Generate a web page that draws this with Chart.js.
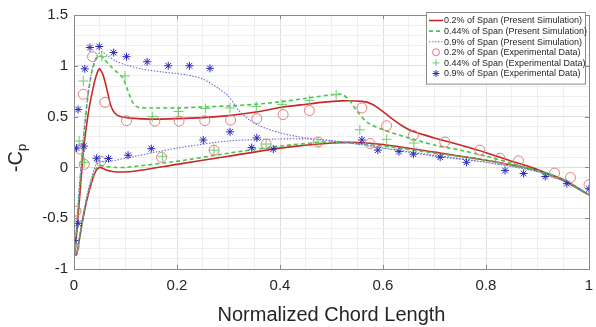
<!DOCTYPE html>
<html>
<head>
<meta charset="utf-8">
<script src="https://cdn.jsdelivr.net/npm/chart.js@4"></script>
<style>
  html, body { margin: 0; padding: 0; background: #fff; overflow: hidden; }
  #wrap { width: 596px; height: 327px; position: relative; }
</style>
</head>
<body>
<div id="wrap"><canvas id="cpChart"></canvas></div>
<script>
// simulation curves: trailing edge -> upper surface -> leading edge -> lower surface -> trailing edge
var sim02X = [1.0, 0.95, 0.9, 0.85, 0.8, 0.75, 0.7, 0.66, 0.64, 0.62, 0.6, 0.58, 0.56, 0.52, 0.48, 0.44, 0.4, 0.36, 0.3, 0.25, 0.2, 0.15, 0.11, 0.09, 0.08, 0.072, 0.066, 0.06, 0.054, 0.049, 0.043, 0.037, 0.03, 0.024, 0.018, 0.014, 0.01, 0.006, 0.002,
  0.005, 0.01, 0.018, 0.026, 0.034, 0.042, 0.05, 0.06, 0.075, 0.095, 0.12, 0.2, 0.3, 0.4, 0.5, 0.55, 0.6, 0.7, 0.8, 0.9, 0.95, 1.0];
var sim02Y = [-0.27, -0.13, -0.02, 0.06, 0.145, 0.22, 0.29, 0.35, 0.4, 0.47, 0.55, 0.62, 0.65, 0.655, 0.64, 0.615, 0.59, 0.55, 0.51, 0.49, 0.48, 0.475, 0.485, 0.5, 0.53, 0.6, 0.72, 0.85, 0.94, 0.97, 0.9, 0.78, 0.6, 0.4, 0.15, -0.1, -0.35, -0.6, -0.86,
  -0.86, -0.72, -0.49, -0.3, -0.15, -0.04, 0.0, -0.02, -0.04, -0.045, -0.035, 0.03, 0.11, 0.19, 0.24, 0.245, 0.225, 0.15, 0.07, -0.03, -0.12, -0.27];

var sim044X = [1.0, 0.95, 0.9, 0.85, 0.8, 0.75, 0.7, 0.65, 0.6, 0.57, 0.55, 0.535, 0.52, 0.5, 0.45, 0.4, 0.35, 0.3, 0.25, 0.2, 0.15, 0.125, 0.115, 0.105, 0.095, 0.085, 0.07, 0.058, 0.05, 0.043, 0.035, 0.027, 0.02, 0.014, 0.008, 0.002,
  0.005, 0.01, 0.018, 0.026, 0.034, 0.042, 0.05, 0.06, 0.08, 0.1, 0.2, 0.3, 0.4, 0.5, 0.6, 0.7, 0.8, 0.9, 0.95, 1.0];
var sim044Y = [-0.27, -0.13, -0.04, 0.04, 0.11, 0.17, 0.22, 0.29, 0.37, 0.44, 0.55, 0.66, 0.72, 0.715, 0.68, 0.645, 0.62, 0.605, 0.595, 0.585, 0.585, 0.59, 0.63, 0.75, 0.88, 0.93, 1.0, 1.07, 1.1, 1.07, 0.95, 0.7, 0.35, 0.0, -0.4, -0.85,
  -0.86, -0.72, -0.48, -0.28, -0.13, -0.02, 0.02, 0.01, 0.0, 0.0, 0.06, 0.14, 0.21, 0.25, 0.21, 0.14, 0.07, -0.03, -0.12, -0.27];

var sim09X = [1.0, 0.95, 0.9, 0.8, 0.7, 0.6, 0.55, 0.5, 0.45, 0.4, 0.36, 0.34, 0.32, 0.3, 0.28, 0.25, 0.22, 0.17, 0.13, 0.1, 0.08, 0.065, 0.053, 0.045, 0.036, 0.028, 0.02, 0.014, 0.008, 0.002,
  0.005, 0.01, 0.018, 0.026, 0.034, 0.042, 0.05, 0.07, 0.1, 0.2, 0.3, 0.4, 0.45, 0.5, 0.6, 0.7, 0.8, 0.9, 0.95, 1.0];
var sim09Y = [-0.27, -0.13, -0.04, 0.05, 0.11, 0.19, 0.235, 0.26, 0.29, 0.34, 0.41, 0.47, 0.56, 0.7, 0.78, 0.87, 0.91, 0.94, 0.97, 1.01, 1.05, 1.1, 1.14, 1.1, 0.98, 0.75, 0.4, 0.05, -0.35, -0.82,
  -0.85, -0.7, -0.46, -0.26, -0.1, 0.02, 0.05, 0.06, 0.09, 0.19, 0.26, 0.28, 0.28, 0.265, 0.19, 0.12, 0.05, -0.04, -0.13, -0.27];

// experimental data
var exp02X = [0.0, 0.004, 0.012, 0.018, 0.036, 0.06, 0.102, 0.157, 0.204, 0.254, 0.304, 0.355, 0.406, 0.457, 0.559, 0.607, 0.659, 0.72, 0.788, 0.827, 0.863, 0.933, 0.964, 1.0,
  0.02, 0.052, 0.17, 0.272, 0.373, 0.474, 0.575];
var exp02Y = [-0.79, -0.43, 0.18, 0.72, 1.09, 0.64, 0.46, 0.455, 0.455, 0.46, 0.465, 0.48, 0.52, 0.56, 0.585, 0.41, 0.315, 0.25, 0.17, 0.09, 0.065, -0.056, -0.1, -0.17,
  0.03, 0.06, 0.1, 0.17, 0.23, 0.25, 0.235];

var exp044X = [0.002, 0.01, 0.018, 0.054, 0.099, 0.152, 0.203, 0.255, 0.303, 0.354, 0.404, 0.457, 0.509, 0.555, 0.607, 0.66,
  0.02, 0.05, 0.172, 0.272, 0.373, 0.474];
var exp044Y = [-0.78, 0.26, 0.85, 1.09, 0.9, 0.5, 0.55, 0.58, 0.585, 0.6, 0.62, 0.66, 0.715, 0.37, 0.276, 0.24,
  0.05, 0.06, 0.11, 0.17, 0.23, 0.25];

var exp09X = [0.0, 0.008, 0.008, 0.021, 0.031, 0.049, 0.077, 0.102, 0.142, 0.183, 0.224, 0.264,
  0.005, 0.019, 0.044, 0.067, 0.105, 0.15, 0.251, 0.303, 0.355, 0.345, 0.387, 0.559, 0.59, 0.631, 0.659, 0.711, 0.762, 0.837, 0.873, 0.915, 0.957, 1.0];
var exp09Y = [-0.72, -0.55, 0.57, 0.97, 1.18, 1.19, 1.13, 1.09, 1.04, 1.0, 1.0, 0.975,
  0.19, 0.21, 0.09, 0.087, 0.12, 0.185, 0.27, 0.35, 0.29, 0.195, 0.18, 0.27, 0.17, 0.155, 0.13, 0.1, 0.05, -0.03, -0.06, -0.09, -0.16, -0.21];

var seriesLabels = [
  '0.2% of Span (Present Simulation)',
  '0.44% of Span (Present Simulation)',
  '0.9% of Span (Present Simulation)',
  '0.2% of Span (Experimental Data)',
  '0.44% of Span (Experimental Data)',
  '0.9% of Span (Experimental Data)'
];

function pts(xs, ys) {
  return xs.map(function(x, i) { return { x: x, y: ys[i] }; });
}

function near(v, step) {
  return Math.abs(v / step - Math.round(v / step)) < 1e-6;
}

var FONT = "'Liberation Sans', Arial, Helvetica, sans-serif";
var AXIS = '#8a8a8a';

var boxPlugin = {
  id: 'box',
  afterDraw: function(chart) {
    var c = chart.ctx, a = chart.chartArea;
    var xs = chart.scales.x, ys = chart.scales.y;
    c.save();
    c.strokeStyle = AXIS;
    c.lineWidth = 1;
    c.strokeRect(Math.round(a.left) + 0.5, Math.round(a.top) + 0.5, Math.round(a.right - a.left), Math.round(a.bottom - a.top));
    // inward tick marks
    c.beginPath();
    [0, 0.2, 0.4, 0.6, 0.8, 1].forEach(function(v) {
      var px = Math.round(xs.getPixelForValue(v)) + 0.5;
      c.moveTo(px, a.bottom); c.lineTo(px, a.bottom - 4);
      c.moveTo(px, a.top); c.lineTo(px, a.top + 4);
    });
    [-1, -0.5, 0, 0.5, 1, 1.5].forEach(function(v) {
      var py = Math.round(ys.getPixelForValue(v)) + 0.5;
      c.moveTo(a.left, py); c.lineTo(a.left + 4, py);
      c.moveTo(a.right, py); c.lineTo(a.right - 4, py);
    });
    c.stroke();

    // y title: -C with subscript p
    c.fillStyle = '#262626';
    c.translate(16, 158);
    c.rotate(-Math.PI / 2);
    c.textBaseline = 'middle';
    c.textAlign = 'left';
    var main = '-C';
    c.font = '20px ' + FONT;
    var w = c.measureText(main).width;
    c.font = '13px ' + FONT;
    var ws = c.measureText('p').width;
    var x0 = -(w + ws) / 2;
    c.font = '20px ' + FONT;
    c.fillText(main, x0, 0);
    c.font = '13px ' + FONT;
    c.fillText('p', x0 + w, 6);
    c.restore();

    // legend
    var lx = 426, ly = 12, lw = 159, rowH = 10.6;
    c.save();
    c.fillStyle = '#fff';
    c.fillRect(lx, ly, lw, rowH * 6 + 8);
    c.strokeStyle = '#8a8a8a';
    c.lineWidth = 1;
    c.strokeRect(lx + 0.5, ly + 0.5, lw, rowH * 6 + 8);
    c.font = '9px ' + FONT;
    c.textBaseline = 'middle';
    chart.data.datasets.forEach(function(ds, i) {
      var y = ly + 8.5 + i * rowH;
      if (ds.showLine) {
        c.save();
        c.strokeStyle = ds.borderColor;
        c.lineWidth = ds.borderWidth;
        c.setLineDash(ds.borderDash || []);
        c.beginPath();
        c.moveTo(lx + 3, y); c.lineTo(lx + 17, y);
        c.stroke();
        c.restore();
      } else {
        c.save();
        c.strokeStyle = ds.pointBorderColor;
        c.fillStyle = 'rgba(0,0,0,0)';
        c.lineWidth = 1;
        Chart.helpers.drawPoint(c, { pointStyle: ds.pointStyle, radius: 3.5, borderWidth: 1, rotation: 0 }, lx + 10, y);
        c.restore();
      }
      c.fillStyle = '#262626';
      c.fillText(ds.label, lx + 18, y + 0.5);
    });
    c.restore();
  }
};

var ctx = document.getElementById('cpChart').getContext('2d');
var config = {
  type: 'scatter',
  data: {
    datasets: [{
      label: seriesLabels[0],
      data: pts(sim02X, sim02Y),
      showLine: true,
      borderColor: 'rgb(200, 40, 40)',
      borderWidth: 1.6,
      pointRadius: 0,
      order: 6
    }, {
      label: seriesLabels[1],
      data: pts(sim044X, sim044Y),
      showLine: true,
      borderColor: 'rgb(70, 200, 70)',
      borderWidth: 1.6,
      borderDash: [4, 3],
      pointRadius: 0,
      order: 5
    }, {
      label: seriesLabels[2],
      data: pts(sim09X, sim09Y),
      showLine: true,
      borderColor: 'rgb(110, 110, 210)',
      borderWidth: 1.1,
      borderDash: [1.5, 1.5],
      pointRadius: 0,
      order: 4
    }, {
      label: seriesLabels[3],
      data: pts(exp02X, exp02Y),
      showLine: false,
      pointStyle: 'circle',
      pointRadius: 5,
      pointBorderWidth: 1,
      pointBorderColor: 'rgb(225, 125, 125)',
      pointBackgroundColor: 'rgba(0,0,0,0)',
      order: 3
    }, {
      label: seriesLabels[4],
      data: pts(exp044X, exp044Y),
      showLine: false,
      pointStyle: 'cross',
      pointRadius: 5,
      pointBorderWidth: 1,
      pointBorderColor: 'rgb(110, 205, 110)',
      pointBackgroundColor: 'rgba(0,0,0,0)',
      order: 2
    }, {
      label: seriesLabels[5],
      data: pts(exp09X, exp09Y),
      showLine: false,
      pointStyle: 'star',
      pointRadius: 4,
      pointBorderWidth: 1,
      pointBorderColor: 'rgb(40, 40, 185)',
      pointBackgroundColor: 'rgba(0,0,0,0)',
      order: 1
    }]
  },
  options: {
    responsive: true,
    maintainAspectRatio: false,
    animation: false,
    layout: { padding: { top: 13, right: 7, left: 0, bottom: 0 } },
    plugins: { legend: { display: false }, tooltip: { enabled: false } },
    elements: { line: { tension: 0.25 } },
    scales: {
      x: {
        type: 'linear',
        min: 0, max: 1,
        border: { display: false },
        grid: {
          drawTicks: false,
          color: function(c) { return near(c.tick.value, 0.2) ? '#dedede' : '#efefef'; }
        },
        ticks: {
          stepSize: 0.05,
          autoSkip: false,
          maxRotation: 0,
          padding: 8,
          color: '#262626',
          font: { family: FONT, size: 15 },
          callback: function(v) { return near(v, 0.2) ? String(Number(v.toFixed(2))) : ''; }
        },
        title: {
          display: true,
          text: 'Normalized Chord Length',
          color: '#262626',
          font: { family: FONT, size: 20 },
          padding: { top: 2, bottom: 0 }
        },
        afterFit: function(s) { s.height = 58; s.paddingRight = 0; }
      },
      y: {
        type: 'linear',
        min: -1, max: 1.5,
        border: { display: false },
        grid: {
          drawTicks: false,
          color: function(c) { return near(c.tick.value, 0.5) ? '#dedede' : '#efefef'; }
        },
        ticks: {
          stepSize: 0.1,
          autoSkip: false,
          padding: 6,
          color: '#262626',
          font: { family: FONT, size: 15 },
          callback: function(v) { return near(v, 0.5) ? String(Number(v.toFixed(2))) : ''; }
        },
        afterFit: function(s) { s.width = 74; }
      }
    }
  },
  plugins: [boxPlugin]
};

var chart = new Chart(ctx, config);
</script>
</body>
</html>
